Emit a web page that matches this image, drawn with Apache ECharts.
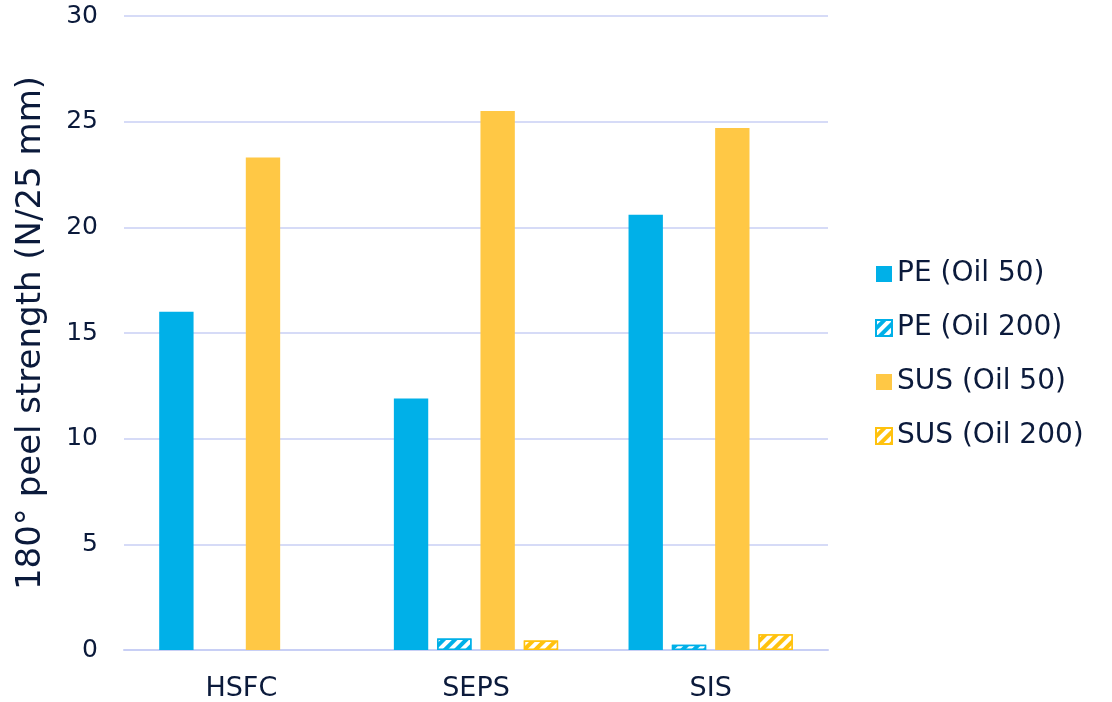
<!DOCTYPE html>
<html><head><meta charset="utf-8">
<script src="https://cdn.jsdelivr.net/npm/echarts@6/dist/echarts.min.js"></script>
<style>html,body{margin:0;padding:0;background:#fff}#c{width:1112px;height:702px}</style>
</head><body><div id="c"></div>
<script>
const categories = ['HSFC', 'SEPS', 'SIS'];
const seriesNames = ['PE (Oil 50)', 'PE (Oil 200)', 'SUS (Oil 50)', 'SUS (Oil 200)'];
const peOil50 = [16.0, 11.9, 20.6];
const peOil200 = [null, 0.55, 0.25];
const susOil50 = [23.3, 25.5, 24.7];
const susOil200 = [null, 0.45, 0.75];
const yTicks = [0, 5, 10, 15, 20, 25, 30];

const BLUE = '#00B0E8', YELLOW = '#FFC845', YELLOW2 = '#FFC20E', TEXT = '#0B1A3B', GRID = '#C8CFF5';
const FONT = 'DejaVu Sans';
function hatch(c) {
  return { color: '#ffffff', backgroundColor: c, dashArrayX: [[1, 0]], dashArrayY: [4, 4], rotation: -Math.PI / 4, symbolSize: 1 };
}
const chart = echarts.init(document.getElementById('c'));
chart.setOption({
  animation: false,
  textStyle: { fontFamily: FONT, color: TEXT },
  grid: { left: 124, right: 284, top: 16, bottom: 52, containLabel: false, outerBoundsMode: 'none' },
  legend: {
    orient: 'vertical', left: 870, top: 255, itemWidth: 16, itemHeight: 16, itemGap: 26,
    icon: 'rect',
    textStyle: { fontFamily: FONT, fontSize: 28, color: TEXT },
    data: seriesNames
  },
  xAxis: {
    type: 'category', data: categories,
    axisLine: { lineStyle: { color: GRID, width: 2 } },
    axisTick: { show: false },
    axisLabel: { fontSize: 27, color: TEXT, margin: 25, fontFamily: FONT }
  },
  yAxis: {
    type: 'value', min: 0, max: 30, interval: 5,
    name: '180° peel strength (N/25 mm)', nameLocation: 'middle', nameGap: 76, nameMoveOverlap: false,
    nameTextStyle: { fontSize: 34, color: TEXT, fontFamily: FONT },
    axisLabel: { fontSize: 25, color: TEXT, margin: 26, fontFamily: FONT,
      formatter: v => yTicks.includes(v) ? String(v) : '' },
    splitLine: { lineStyle: { color: GRID, width: 1.5 } },
    axisLine: { show: false }, axisTick: { show: false }
  },
  series: [
    { name: seriesNames[0], type: 'bar', data: peOil50, itemStyle: { color: BLUE }, barGap: '26%', barCategoryGap: '30%' },
    { name: seriesNames[1], type: 'bar', data: peOil200, itemStyle: { color: BLUE, borderColor: BLUE, borderWidth: 1.5, decal: hatch(BLUE) } },
    { name: seriesNames[2], type: 'bar', data: susOil50, itemStyle: { color: YELLOW } },
    { name: seriesNames[3], type: 'bar', data: susOil200, itemStyle: { color: YELLOW2, borderColor: YELLOW2, borderWidth: 1.5, decal: hatch(YELLOW2) } }
  ]
});
</script></body></html>
